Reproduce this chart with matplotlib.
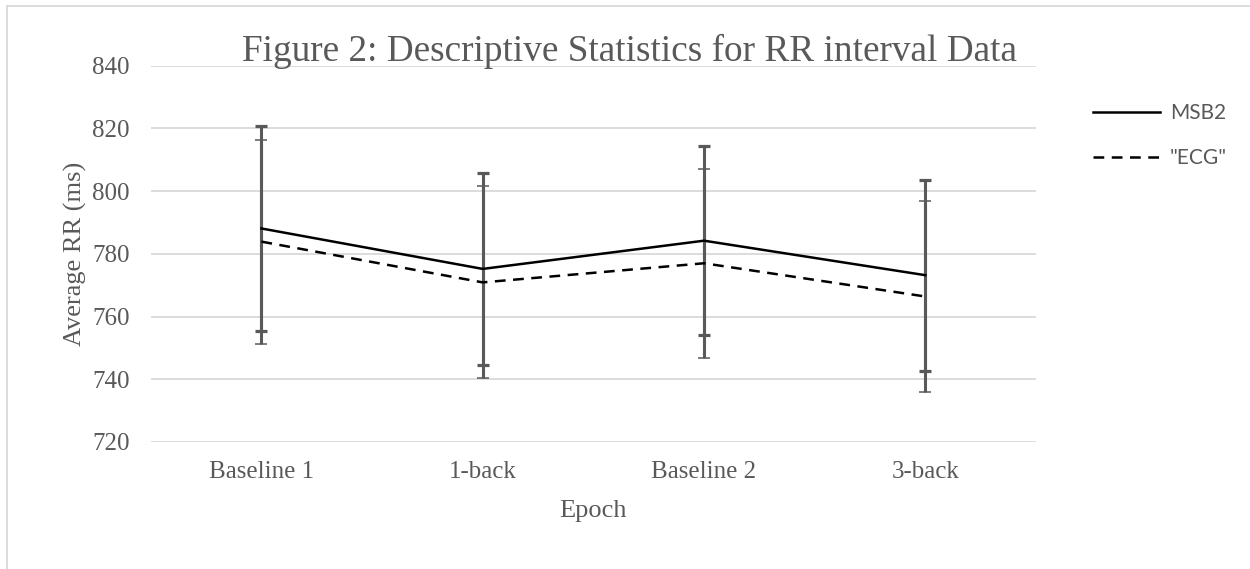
import matplotlib
matplotlib.use("Agg")
import matplotlib.pyplot as plt
from matplotlib.lines import Line2D

epochs = ["Baseline 1", "1-back", "Baseline 2", "3-back"]
msb2_mean = [788.1, 775.2, 784.2, 773.2]
msb2_err = [32.6, 30.6, 30.2, 30.4]
ecg_mean = [783.9, 770.9, 777.0, 766.4]
ecg_err = [32.5, 30.6, 30.2, 30.4]
y_ticks = [720, 740, 760, 780, 800, 820, 840]

TXT = "#595959"
GRID = "#d9d9d9"
SERIF = "Liberation Serif"

fig = plt.figure(figsize=(12.5, 5.69), dpi=100)
ax = fig.add_axes([0.1206, 0.2232, 0.7082, 0.6613])

x = list(range(len(epochs)))

ax.errorbar(x, msb2_mean, yerr=msb2_err, fmt="none", ecolor=TXT,
            elinewidth=2.2, capsize=4.3, capthick=2.3, zorder=2)
ax.errorbar(x, ecg_mean, yerr=ecg_err, fmt="none", ecolor=TXT,
            elinewidth=2.2, capsize=4.3, capthick=1.1, zorder=2)
l1, = ax.plot(x, msb2_mean, color="black", lw=1.8, zorder=3, label="MSB2")
l2, = ax.plot(x, ecg_mean, color="black", lw=1.8, linestyle=(0, (4.3, 3.0)),
              zorder=3, label='"ECG"')

ax.set_xlim(-0.5, len(epochs) - 0.5)
ax.set_ylim(720, 840)
ax.set_yticks(y_ticks)
ax.set_xticks(x)
ax.set_xticklabels(epochs)
ax.grid(axis="y", color=GRID, lw=1.3)
ax.set_axisbelow(True)
for s in ax.spines.values():
    s.set_visible(False)
ax.tick_params(axis="both", length=0, labelcolor=TXT, labelsize=18)
ax.tick_params(axis="y", pad=15)
ax.tick_params(axis="x", pad=14)
for lab in ax.get_xticklabels() + ax.get_yticklabels():
    lab.set_fontfamily(SERIF)

ax.set_ylabel("Average RR (ms)", fontfamily=SERIF, fontsize=19, color=TXT, labelpad=4)
ax.set_xlabel("Epoch", fontfamily=SERIF, fontsize=19, color=TXT, labelpad=12)

fig.text(0.504, 0.893, "Figure 2: Descriptive Statistics for RR interval Data",
         ha="center", va="baseline", fontfamily=SERIF, fontsize=26.8, color=TXT)

leg = fig.legend(handles=[l1, l2], loc="upper left", bbox_to_anchor=(0.8744, 0.819),
                 frameon=False, prop={"family": "Lato", "size": 15},
                 handlelength=3.2, handletextpad=0.48, labelspacing=1.2,
                 borderaxespad=0, borderpad=0)
for t in leg.get_texts():
    t.set_color(TXT)

# outer chart border (left and top visible)
fig.add_artist(Line2D([7 / 1250, 7 / 1250], [0, 1 - 6 / 569], transform=fig.transFigure,
                      color=GRID, lw=1.3))
fig.add_artist(Line2D([7 / 1250, 1], [1 - 6 / 569, 1 - 6 / 569], transform=fig.transFigure,
                      color=GRID, lw=1.3))

fig.savefig("out.png", dpi=100, facecolor="white")
